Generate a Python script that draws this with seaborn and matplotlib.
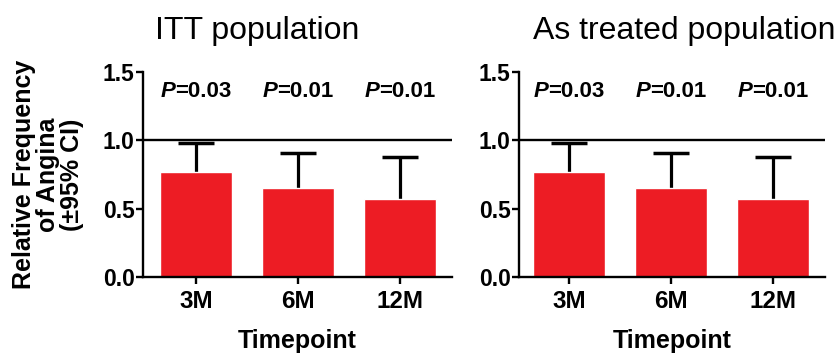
import numpy as np
import pandas as pd
import matplotlib
matplotlib.use("Agg")
import matplotlib.pyplot as plt
import seaborn as sns

# Data
timepoints = ["3M", "6M", "12M"]
itt_rate = [0.77, 0.653, 0.57]
itt_upper = [0.978, 0.905, 0.88]
at_rate = [0.77, 0.653, 0.57]
at_upper = [0.978, 0.905, 0.88]
p_labels = ["0.03", "0.01", "0.01"]
titles = ["ITT population", "As treated population"]

BAR_RED = "#ED1C24"

sns.set_theme(style="ticks", rc={
    "axes.edgecolor": "black", "xtick.color": "black", "ytick.color": "black",
    "text.color": "black", "axes.labelcolor": "black", "axes.linewidth": 1.7,
})
plt.rcParams["font.family"] = ["Liberation Sans", "DejaVu Sans"]

fig = plt.figure(figsize=(8.37, 3.54), dpi=100)
ax_l = fig.add_axes([143 / 837, 1 - 277 / 354, (452 - 143) / 837, 205 / 354])
ax_r = fig.add_axes([519 / 837, 1 - 277 / 354, (825 - 519) / 837, 205 / 354])

panels = [
    (ax_l, itt_rate, itt_upper, (-0.52, 2.51)),
    (ax_r, at_rate, at_upper, (-0.49, 2.51)),
]

PFS = 16
for i, (ax, rate, upper, xlim) in enumerate(panels):
    df = pd.DataFrame({"Timepoint": timepoints, "rate": rate, "upper": upper})
    sns.barplot(data=df, x="Timepoint", y="rate", color=BAR_RED,
                saturation=1, width=0.7, errorbar=None, ax=ax, zorder=2)
    xs = np.arange(len(timepoints))
    # upper half of the CI only
    ax.vlines(xs, df["rate"], df["upper"], color="black", lw=2.3, zorder=1)
    ax.hlines(df["upper"], xs - 0.18, xs + 0.18, color="black", lw=2.5, zorder=3)
    ax.axhline(1.0, color="black", lw=1.7, zorder=3)

    for x, p in zip(xs, p_labels):
        t = ax.annotate("=" + p, xy=(x, 1.317), xytext=(-0.93 * PFS, 0),
                        textcoords="offset points", ha="left", va="baseline",
                        fontsize=PFS, fontweight="bold")
        ax.annotate("P", xy=(0, 0), xycoords=t, ha="right", va="bottom",
                    fontsize=PFS, fontweight="bold", fontstyle="italic")

    ax.set_xlim(*xlim)
    ax.set_ylim(0, 1.5)
    ax.set_yticks([0, 0.5, 1.0, 1.5])
    ax.set_yticklabels(["0.0", "0.5", "1.0", "1.5"])
    sns.despine(ax=ax)
    ax.tick_params(axis="x", length=5, width=1.7, pad=4, labelsize=17.5)
    ax.tick_params(axis="y", length=5, width=1.7, pad=1, labelsize=16.5)
    for lab in ax.get_xticklabels() + ax.get_yticklabels():
        lab.set_fontweight("bold")
    ax.set_xlabel("Timepoint", fontsize=18, fontweight="bold", va="baseline")
    ax.xaxis.set_label_coords(0.5, -(348 - 277) / 205)
    ax.set_ylabel("")

ax_l.set_ylabel("Relative Frequency\nof Angina\n(\u00b195% CI)", fontsize=18,
                fontweight="bold", linespacing=1.0)
ax_l.yaxis.set_label_coords(-(143 - 84) / 309, 0.5)

fig.text(257 / 837, 1 - 39 / 354, titles[0], ha="center", va="baseline", fontsize=23)
fig.text(684 / 837, 1 - 39 / 354, titles[1], ha="center", va="baseline", fontsize=23)

fig.savefig("out.png", dpi=100)
